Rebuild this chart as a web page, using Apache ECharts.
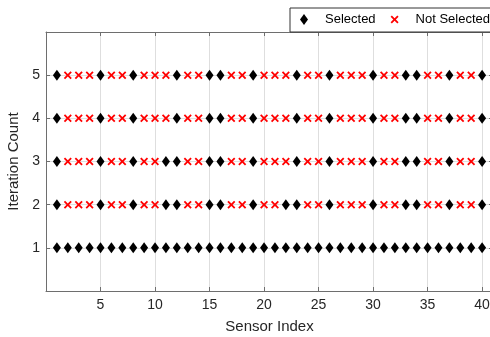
<!DOCTYPE html>
<html>
<head>
<meta charset="utf-8">
<script src="https://cdn.jsdelivr.net/npm/echarts@6/dist/echarts.min.js"></script>
<style>
  html, body { margin: 0; padding: 0; background: #fff; }
  #chart { width: 490px; height: 337px; }
</style>
</head>
<body>
<div id="chart"></div>
<script>
// Sensor indices along the x axis
const sensorIndex = [1,2,3,4,5,6,7,8,9,10,11,12,13,14,15,16,17,18,19,20,
                     21,22,23,24,25,26,27,28,29,30,31,32,33,34,35,36,37,38,39,40];

// Iteration numbers on the y axis
const iterations = [1, 2, 3, 4, 5];

// Selection flags per iteration (1 = selected, 0 = not selected), one per sensor
const iter1Flags = [1,1,1,1,1,1,1,1,1,1,1,1,1,1,1,1,1,1,1,1,1,1,1,1,1,1,1,1,1,1,1,1,1,1,1,1,1,1,1,1];
const iter2Flags = [1,0,0,0,1,0,0,1,0,0,1,1,0,0,1,1,0,0,1,0,0,1,1,0,0,1,0,0,0,1,0,0,1,1,0,0,1,0,0,1];
const iter3Flags = [1,0,0,0,1,0,0,1,0,0,1,1,0,0,1,1,0,0,1,0,0,0,1,0,0,1,0,0,0,1,0,0,1,1,0,0,1,0,0,1];
const iter4Flags = [1,0,0,0,1,0,0,1,0,0,0,1,0,0,1,1,0,0,1,0,0,0,1,0,0,1,0,0,0,1,0,0,1,1,0,0,1,0,0,1];
const iter5Flags = [1,0,0,0,1,0,0,1,0,0,0,1,0,0,1,1,0,0,1,0,0,0,1,0,0,1,0,0,0,1,0,0,1,1,0,0,1,0,0,1];

// Axis tick labels
const xTickLabels = [5, 10, 15, 20, 25, 30, 35, 40];
const yTickLabels = [1, 2, 3, 4, 5];

const seriesNames = ['Selected', 'Not Selected'];

const allFlags = [iter1Flags, iter2Flags, iter3Flags, iter4Flags, iter5Flags];
const selectedPts = [];
const notSelectedPts = [];
allFlags.forEach(function (flags, r) {
  flags.forEach(function (f, i) {
    const pt = [sensorIndex[i], iterations[r]];
    if (f) selectedPts.push(pt); else notSelectedPts.push(pt);
  });
});

// Filled "x" marker outline
const crossPath = 'path://M0,1.6L1.6,0L5,3.4L8.4,0L10,1.6L6.6,5L10,8.4L8.4,10L5,6.6L1.6,10L0,8.4L3.4,5Z';

const FONT = 'Liberation Sans, Arial, Helvetica, sans-serif';
const AXIS_COLOR = '#6e6e6e';
const TEXT_COLOR = '#262626';
const GRID_COLOR = '#dedede';

const chart = echarts.init(document.getElementById('chart'), null, { renderer: 'canvas' });

// Top and right axes close the box; ticks only, no labels
const boxAxisCommon = {
  axisLine: { show: true, onZero: false, lineStyle: { color: AXIS_COLOR, width: 1 } },
  axisTick: { show: true, inside: true, length: 4, lineStyle: { color: AXIS_COLOR } },
  axisLabel: { show: false },
  splitLine: { show: false }
};

chart.setOption({
  animation: false,
  backgroundColor: '#fff',
  grid: { left: 46, right: -3, top: 32, bottom: 46, containLabel: false, outerBoundsMode: 'none' },
  legend: {
    data: seriesNames,
    orient: 'horizontal',
    left: 290,
    top: 8,
    width: 300,
    padding: [5, 10, 6, 10],
    itemWidth: 8,
    itemHeight: 11,
    itemGap: 15,
    borderColor: '#333',
    borderWidth: 1,
    backgroundColor: '#fff',
    textStyle: { fontFamily: FONT, fontSize: 13, color: '#000', padding: [0, 0, 0, 12] }
  },
  xAxis: [
    {
      type: 'value',
      min: 0,
      max: 41,
      interval: 5,
      name: 'Sensor Index',
      nameLocation: 'middle',
      nameGap: 28,
      nameTextStyle: { fontFamily: FONT, fontSize: 15, color: TEXT_COLOR },
      axisLine: { show: true, onZero: false, lineStyle: { color: AXIS_COLOR, width: 1 } },
      axisTick: { show: true, inside: true, length: 4, lineStyle: { color: AXIS_COLOR } },
      axisLabel: {
        fontFamily: FONT, fontSize: 14, color: TEXT_COLOR, margin: 7,
        formatter: function (v) { return xTickLabels.indexOf(v) >= 0 ? String(v) : ''; }
      },
      splitLine: { show: true, lineStyle: { color: GRID_COLOR, width: 1 } }
    },
    Object.assign({ type: 'value', min: 0, max: 41, interval: 5, position: 'top' }, boxAxisCommon)
  ],
  yAxis: [
    {
      type: 'value',
      min: 0,
      max: 6,
      interval: 1,
      name: 'Iteration Count',
      nameLocation: 'middle',
      nameGap: 21,
      nameTextStyle: { fontFamily: FONT, fontSize: 15, color: TEXT_COLOR },
      axisLine: { show: true, onZero: false, lineStyle: { color: AXIS_COLOR, width: 1 } },
      axisTick: { show: true, inside: true, length: 4, lineStyle: { color: AXIS_COLOR } },
      axisLabel: {
        fontFamily: FONT, fontSize: 14, color: TEXT_COLOR, margin: 6,
        formatter: function (v) { return yTickLabels.indexOf(v) >= 0 ? String(v) : ''; }
      },
      splitLine: { show: true, lineStyle: { color: GRID_COLOR, width: 1 } }
    },
    Object.assign({ type: 'value', min: 0, max: 6, interval: 1, position: 'right' }, boxAxisCommon)
  ],
  series: [
    {
      name: seriesNames[0],
      type: 'scatter',
      data: selectedPts,
      symbol: 'diamond',
      symbolSize: [8, 11],
      itemStyle: { color: '#000', opacity: 1 },
      z: 3
    },
    {
      name: seriesNames[1],
      type: 'scatter',
      data: notSelectedPts,
      symbol: crossPath,
      symbolSize: [8, 8],
      itemStyle: { color: '#ff0000', opacity: 1 },
      z: 3
    }
  ]
});
</script>
</body>
</html>
